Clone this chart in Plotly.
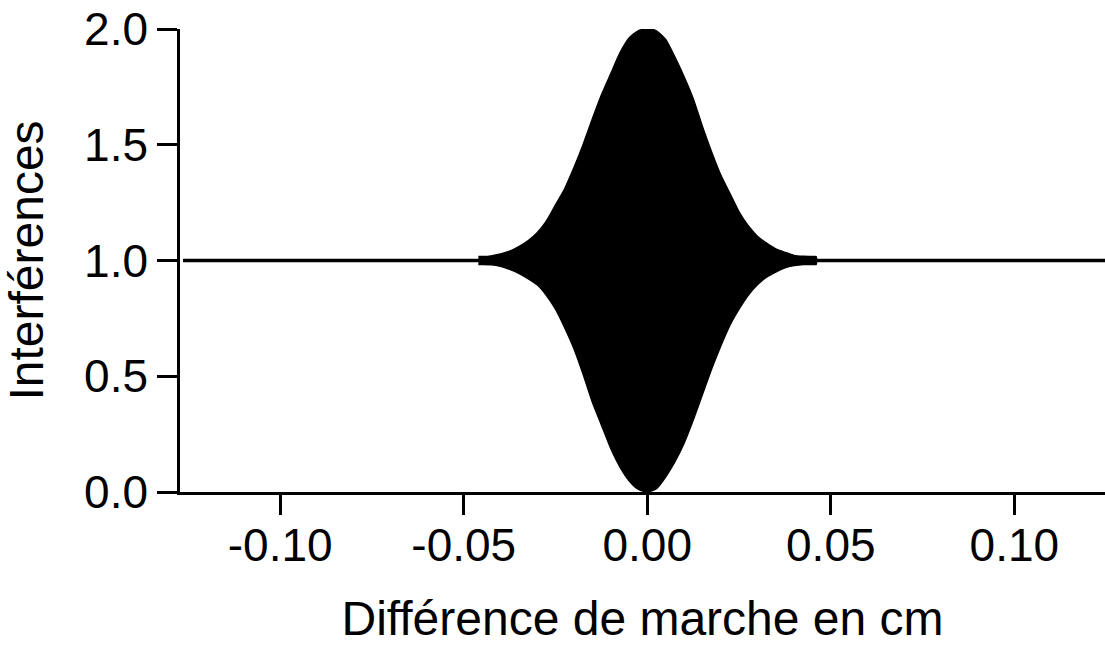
import plotly.graph_objects as go

# Envelope of the interference pattern
env_x = [-0.046, -0.045, -0.0425, -0.040, -0.0375, -0.035, -0.0325, -0.030, -0.0275, -0.025,
         -0.0225, -0.020, -0.0175, -0.015, -0.0125, -0.010, -0.0075, -0.005, -0.0025, 0.0,
         0.0025, 0.005, 0.0075, 0.010, 0.0125, 0.015, 0.0175, 0.020, 0.0225, 0.025,
         0.0275, 0.030, 0.0325, 0.035, 0.0375, 0.040, 0.0425, 0.045, 0.046]
upper = [1.017, 1.017, 1.020, 1.028, 1.040, 1.060, 1.085, 1.120, 1.170, 1.240,
         1.310, 1.400, 1.500, 1.610, 1.715, 1.805, 1.895, 1.960, 1.992, 2.000,
         1.992, 1.955, 1.880, 1.795, 1.700, 1.580, 1.470, 1.370, 1.290, 1.210,
         1.150, 1.105, 1.075, 1.050, 1.035, 1.022, 1.018, 1.017, 1.017]
lower = [0.983, 0.983, 0.982, 0.975, 0.962, 0.945, 0.922, 0.895, 0.850, 0.790,
         0.710, 0.620, 0.510, 0.390, 0.290, 0.190, 0.110, 0.050, 0.012, 0.000,
         0.015, 0.065, 0.130, 0.210, 0.310, 0.420, 0.530, 0.630, 0.720, 0.790,
         0.850, 0.895, 0.928, 0.950, 0.968, 0.978, 0.983, 0.983, 0.983]

# Flat baseline outside the fringe packet
base_x = [-0.1265, 0.1247]
base_y = [1.0, 1.0]

x_ticks = [-0.10, -0.05, 0.00, 0.05, 0.10]
x_ticktext = ["-0.10", "-0.05", "0.00", "0.05", "0.10"]
y_ticks = [0.0, 0.5, 1.0, 1.5, 2.0]
y_ticktext = ["0.0", "0.5", "1.0", "1.5", "2.0"]

fig = go.Figure()
fig.add_trace(go.Scatter(x=base_x, y=base_y, mode="lines",
                         line=dict(color="black", width=3.5), hoverinfo="skip"))
fig.add_trace(go.Scatter(x=env_x + env_x[::-1], y=upper + lower[::-1], mode="lines",
                         fill="toself", fillcolor="black",
                         line=dict(color="black", width=1.5, shape="spline", smoothing=0.6),
                         hoverinfo="skip"))

font = "Liberation Sans, Arial, sans-serif"
fig.update_layout(
    width=1105, height=646,
    margin=dict(l=180, r=0, t=29, b=154),
    paper_bgcolor="white", plot_bgcolor="white",
    showlegend=False,
    font=dict(family=font, color="black", size=46),
    xaxis=dict(range=[-0.1273, 0.1247], showgrid=False, zeroline=False,
               showline=True, linecolor="black", linewidth=2.5,
               ticks="outside", ticklen=20, tickwidth=2.5, tickcolor="black",
               tickvals=x_ticks, ticktext=x_ticktext, ticklabelstandoff=-9,
               tickfont=dict(size=46, family=font),
               title=dict(text="Différence de marche en cm", font=dict(size=48, family=font),
                          standoff=32)),
    yaxis=dict(range=[0, 2], showgrid=False, zeroline=False,
               showline=True, linecolor="black", linewidth=2.5,
               ticks="outside", ticklen=20, tickwidth=2.5, tickcolor="black",
               tickvals=y_ticks, ticktext=y_ticktext,
               tickfont=dict(size=46, family=font),
               title=dict(text="Interférences", font=dict(size=48, family=font),
                          standoff=28)),
)

fig.write_html("out.html")
